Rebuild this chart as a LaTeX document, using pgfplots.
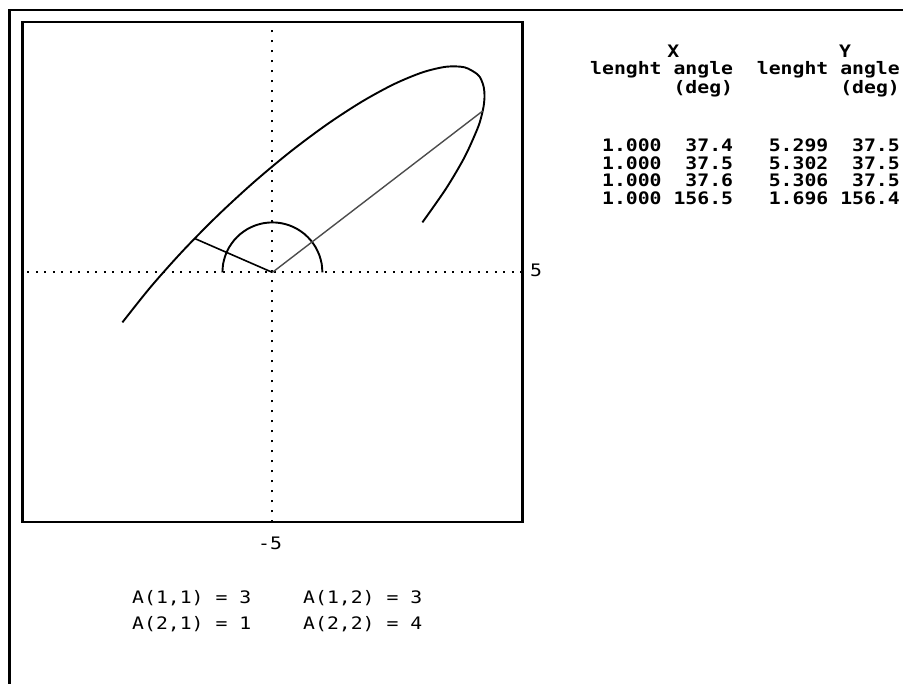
\documentclass[border=0pt]{standalone}
\usepackage{pgfplots}
\pgfplotsset{compat=1.18}
\usepackage{fontspec}
\setmainfont{DejaVu Sans Mono}[FakeStretch=1.15]
\begin{document}
\begin{tikzpicture}[x=1pt,y=1pt]
\useasboundingbox (0,0) rectangle (903,684);
% outer frame (only top and left visible)
\draw[line width=2.2pt] (9.5,-2) -- (9.5,674) -- (905,674);
\begin{axis}[
  at={(22.4pt,161.6pt)}, anchor=south west,
  scale only axis, width=500pt, height=500pt,
  xmin=-5, xmax=5, ymin=-5, ymax=5,
  xtick=\empty, ytick=\empty,
]
% dotted axes
\addplot[black, line width=2pt, dash pattern=on 2pt off 6.5pt] coordinates {(-4.9,0) (5,0)};
\addplot[black, line width=2pt, dash pattern=on 2pt off 8pt] coordinates {(0,-5) (0,4.85)};
% image of the upper unit half-circle under A
\addplot[black, line width=1.9pt, smooth] coordinates {
(3.0000,1.0000) (3.4754,1.6794) (3.8451,2.3078) (4.0981,2.8660) (4.1782,3.1135)
(4.2265,3.3372) (4.2426,3.5355) (4.2265,3.7070) (4.1782,3.8502) (4.0981,3.9641)
(3.8451,4.1008) (3.4754,4.1129) (3.0000,4.0000) (2.4335,3.7656) (1.7930,3.4167)
(1.0981,2.9641) (0.3698,2.4214) (-0.3698,1.8051) (-1.0981,1.1340) (-1.7930,0.4284)
(-2.4335,-0.2902) (-3.0000,-1.0000)};
% unit half-circle
\addplot[black, line width=1.9pt, smooth] coordinates {
(1.00000,0.00000) (0.98481,0.17365) (0.93969,0.34202) (0.86603,0.50000)
(0.76604,0.64279) (0.64279,0.76604) (0.50000,0.86603) (0.34202,0.93969)
(0.17365,0.98481) (0.00000,1.00000) (-0.17365,0.98481) (-0.34202,0.93969)
(-0.50000,0.86603) (-0.64279,0.76604) (-0.76604,0.64279) (-0.86603,0.50000)
(-0.93969,0.34202) (-0.98481,0.17365) (-1.00000,0.00000)};
% eigen-direction vectors
\addplot[black!70, line width=1.4pt] coordinates {(0,0) (4.2063,3.2284)};
\addplot[black, line width=1.6pt] coordinates {(0,0) (-1.5549,0.6779)};
\end{axis}
\draw[line width=2.2pt] (22.4,161.6) rectangle (522.4,661.6);
\fontsize{17.2}{20}\selectfont
\node[inner sep=0, anchor=base west] at (530,407.3) {5};
\node[inner sep=0, anchor=base] at (270,134) {-5};
\node[inner sep=0, anchor=base west] at (132,80.7) {A(1,1)~=~3};
\node[inner sep=0, anchor=base west] at (303,80.7) {A(1,2)~=~3};
\node[inner sep=0, anchor=base west] at (132,54) {A(2,1)~=~1};
\node[inner sep=0, anchor=base west] at (303,54) {A(2,2)~=~4};
\begin{scope}[font=\bfseries]
\node[inner sep=0, anchor=base] at (673.3,626) {X};
\node[inner sep=0, anchor=base] at (845,626) {Y};
\node[inner sep=0, anchor=base west] at (590,609) {lenght~angle~~lenght~angle};
\node[inner sep=0, anchor=base west] at (590,590) {~~~~~~~(deg)~~~~~~~~~(deg)};
\node[inner sep=0, anchor=base west] at (590,532.3) {~1.000~~37.4~~~5.299~~37.5};
\node[inner sep=0, anchor=base west] at (590,514.7) {~1.000~~37.5~~~5.302~~37.5};
\node[inner sep=0, anchor=base west] at (590,497.3) {~1.000~~37.6~~~5.306~~37.5};
\node[inner sep=0, anchor=base west] at (590,479.7) {~1.000~156.5~~~1.696~156.4};
\end{scope}
\end{tikzpicture}
\end{document}
